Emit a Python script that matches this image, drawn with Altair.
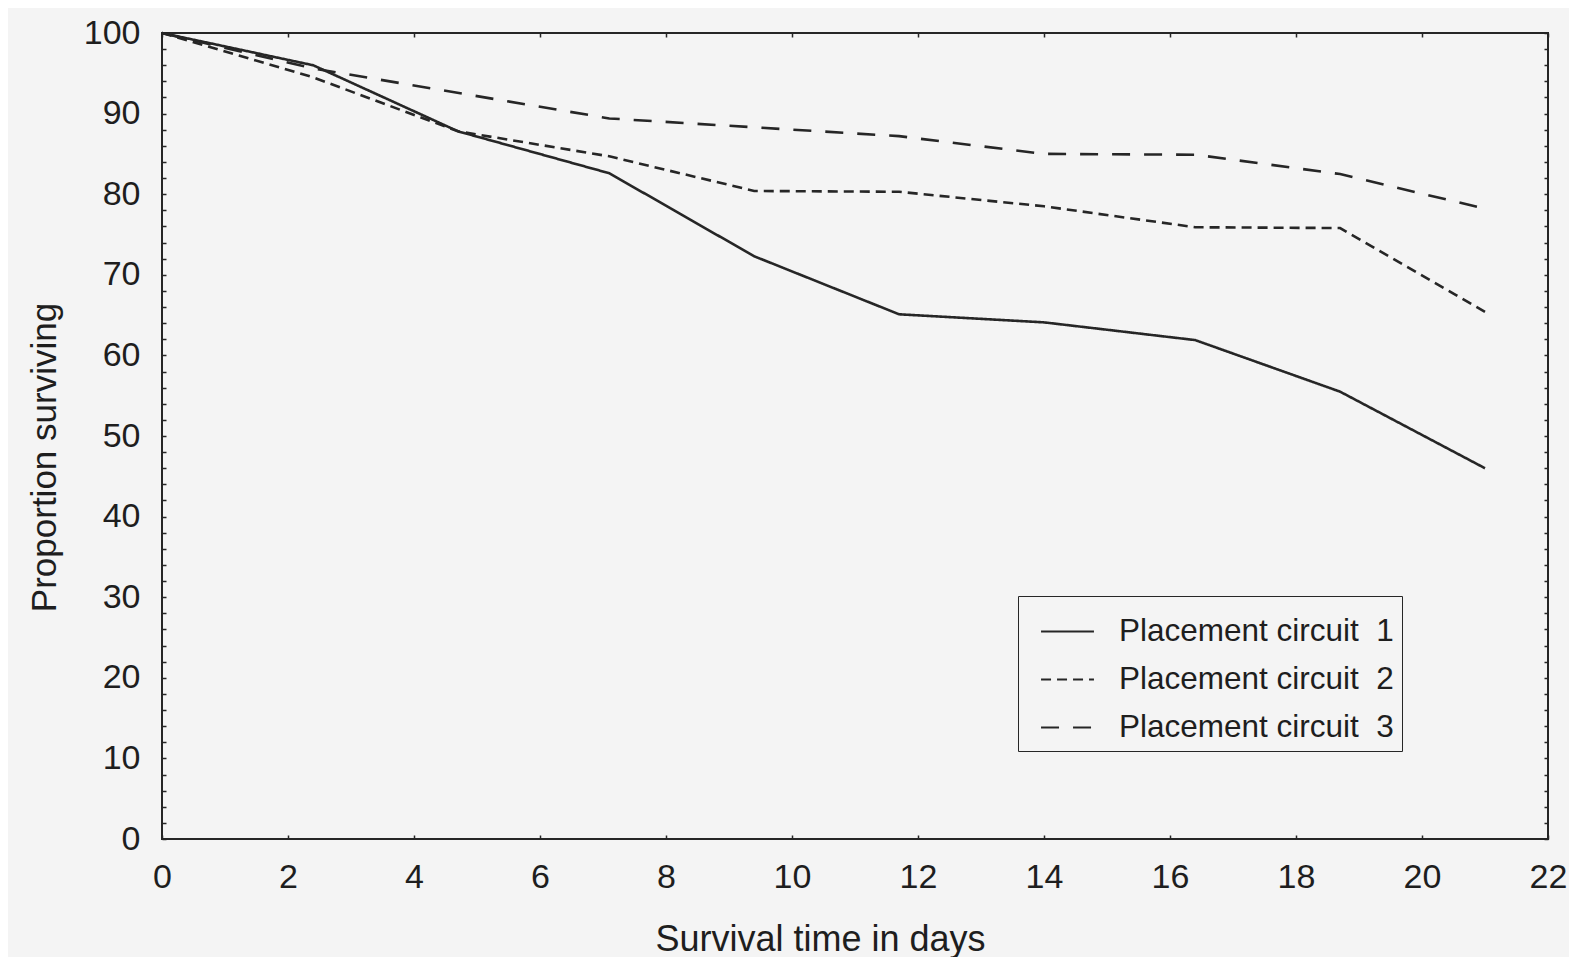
import altair as alt
import pandas as pd

# ---- data ----
names = ["Placement circuit\u00a0\u00a01", "Placement circuit\u00a0\u00a02", "Placement circuit\u00a0\u00a03"]
days1 = [0, 2.4, 4.7, 7.1, 9.4, 11.7, 14.0, 16.4, 18.7, 21.0]
surv1 = [100, 96.0, 87.8, 82.6, 72.3, 65.1, 64.1, 61.9, 55.5, 46.0]
days2 = [0, 2.4, 4.7, 7.1, 9.4, 11.7, 14.0, 16.4, 18.7, 21.0]
surv2 = [100, 94.5, 87.8, 84.7, 80.4, 80.3, 78.5, 75.9, 75.8, 65.4]
days3 = [0, 2.4, 7.1, 11.7, 14.0, 16.4, 18.7, 21.0]
surv3 = [100, 95.6, 89.4, 87.2, 85.0, 84.9, 82.5, 78.2]
x_ticks = list(range(0, 23, 2))
y_ticks = list(range(0, 101, 2))

rows = []
for n, ds, ss in zip(names, [days1, days2, days3], [surv1, surv2, surv3]):
    for i, (d, s) in enumerate(zip(ds, ss)):
        rows.append({"series": n, "day": d, "surv": s, "order": i})
df = pd.DataFrame(rows)

FONT = "Liberation Sans"
INK = "#262626"
TXT = "#1e1e1e"
BG = "#f4f4f4"

xscale = alt.Scale(domain=[0, 22], nice=False, zero=False)
yscale = alt.Scale(domain=[0, 100], nice=False, zero=False)

lines = alt.Chart(df).mark_line(color=INK, strokeWidth=2.6).encode(
    x=alt.X("day:Q", scale=xscale,
            axis=alt.Axis(values=x_ticks, domain=False, grid=False, ticks=True,
                          tickSize=4, offset=-4, tickColor=INK, tickWidth=1.5,
                          labelFont=FONT, labelFontSize=34, labelColor=TXT,
                          labelPadding=21, labelFlush=False,
                          title="Survival time in days", titleFont=FONT,
                          titleFontSize=36, titleFontWeight="normal",
                          titleColor=TXT, titleX=658, titleY=115,
                          titleBaseline="alphabetic", titleAlign="center")),
    y=alt.Y("surv:Q", scale=yscale,
            axis=alt.Axis(values=y_ticks, domain=False, grid=False, ticks=True,
                          tickSize=4, offset=-4, tickColor=INK, tickWidth=1.5,
                          labelExpr="datum.value % 10 == 0 ? datum.label : ''",
                          labelFont=FONT, labelFontSize=34, labelColor=TXT,
                          labelPadding=22, labelFlush=False,
                          title="Proportion surviving", titleFont=FONT,
                          titleFontSize=35, titleFontWeight="normal",
                          titleColor=TXT, titleX=-111, titleY=424,
                          titleBaseline="alphabetic", titleAlign="center")),
    strokeDash=alt.StrokeDash("series:N",
                              scale=alt.Scale(domain=names, range=[[1, 0], [10, 6], [18, 14]]),
                              legend=alt.Legend(title=None, orient="none",
                                                legendX=856, legendY=563,
                                                symbolType="stroke", symbolSize=2800,
                                                symbolStrokeWidth=2, symbolStrokeColor=INK,
                                                symbolOffset=14,
                                                labelFont=FONT, labelFontSize=31.5,
                                                labelColor=TXT, labelOffset=24,
                                                labelLimit=600,
                                                strokeColor=INK, fillColor=BG,
                                                padding=8, rowPadding=5)),
    order="order:Q",
)

frame_axes = alt.Chart(df).mark_line(opacity=0).encode(
    x=alt.X("day:Q", scale=xscale,
            axis=alt.Axis(orient="top", values=x_ticks, domain=False, grid=False,
                          ticks=True, tickSize=4, offset=-4, tickColor=INK,
                          tickWidth=1.5, labels=False, title="")),
    y=alt.Y("surv:Q", scale=yscale,
            axis=alt.Axis(orient="right", values=y_ticks, domain=False, grid=False,
                          ticks=True, tickSize=4, offset=-4, tickColor=INK,
                          tickWidth=1.5, labels=False, title="")),
    detail="series:N",
    order="order:Q",
)

chart = alt.layer(lines, frame_axes).resolve_axis(x="independent", y="independent").properties(
    width=1386, height=806,
    background=BG,
    padding={"left": 154, "top": 25, "right": 21, "bottom": 118},
    autosize=alt.AutoSizeParams(type="none"),
).configure_view(stroke=INK, strokeWidth=2)

chart.save("out.html", embed_options={"renderer": "svg", "actions": False})
